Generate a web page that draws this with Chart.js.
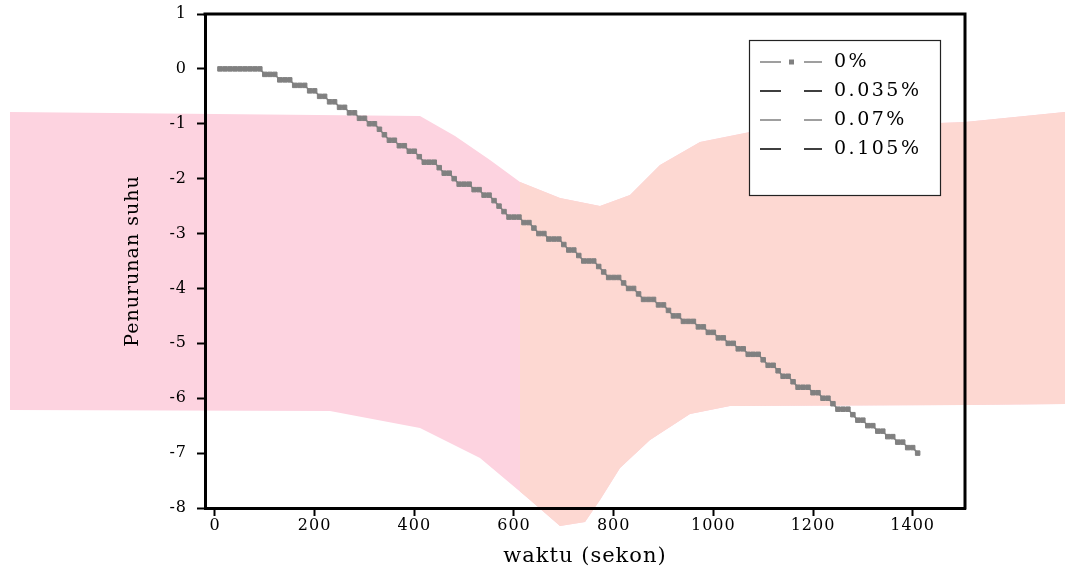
<!DOCTYPE html>
<html><head><meta charset="utf-8">
<script src="https://cdn.jsdelivr.net/npm/chart.js@4.4.1/dist/chart.umd.min.js"></script>
<style>html,body{margin:0;padding:0;background:#fff;}#wrap{width:1065px;height:570px;position:relative;}</style>
</head><body><div id="wrap"><canvas id="c" width="1065" height="570"></canvas></div>
<script>
// ---------- data ----------
const seriesLabels = ['0%', '0.035%', '0.07%', '0.105%'];
const waktu = [
  10,20,30,40,50,60,70,80,90,100,
  110,120,130,140,150,160,170,180,190,200,
  210,220,230,240,250,260,270,280,290,300,
  310,320,330,340,350,360,370,380,390,400,
  410,420,430,440,450,460,470,480,490,500,
  510,520,530,540,550,560,570,580,590,600,
  610,620,630,640,650,660,670,680,690,700,
  710,720,730,740,750,760,770,780,790,800,
  810,820,830,840,850,860,870,880,890,900,
  910,920,930,940,950,960,970,980,990,1000,
  1010,1020,1030,1040,1050,1060,1070,1080,1090,1100,
  1110,1120,1130,1140,1150,1160,1170,1180,1190,1200,
  1210,1220,1230,1240,1250,1260,1270,1280,1290,1300,
  1310,1320,1330,1340,1350,1360,1370,1380,1390,1400,
  1410
];
const suhu0 = [
  0,0,0,0,0,0,0,0,0,-0.1,
  -0.1,-0.1,-0.2,-0.2,-0.2,-0.3,-0.3,-0.3,-0.4,-0.4,
  -0.5,-0.5,-0.6,-0.6,-0.7,-0.7,-0.8,-0.8,-0.9,-0.9,
  -1.0,-1.0,-1.1,-1.2,-1.3,-1.3,-1.4,-1.4,-1.5,-1.5,
  -1.6,-1.7,-1.7,-1.7,-1.8,-1.9,-1.9,-2.0,-2.1,-2.1,
  -2.1,-2.2,-2.2,-2.3,-2.3,-2.4,-2.5,-2.6,-2.7,-2.7,
  -2.7,-2.8,-2.8,-2.9,-3.0,-3.0,-3.1,-3.1,-3.1,-3.2,
  -3.3,-3.3,-3.4,-3.5,-3.5,-3.5,-3.6,-3.7,-3.8,-3.8,
  -3.8,-3.9,-4.0,-4.0,-4.1,-4.2,-4.2,-4.2,-4.3,-4.3,
  -4.4,-4.5,-4.5,-4.6,-4.6,-4.6,-4.7,-4.7,-4.8,-4.8,
  -4.9,-4.9,-5.0,-5.0,-5.1,-5.1,-5.2,-5.2,-5.2,-5.3,
  -5.4,-5.4,-5.5,-5.6,-5.6,-5.7,-5.8,-5.8,-5.8,-5.9,
  -5.9,-6.0,-6.0,-6.1,-6.2,-6.2,-6.2,-6.3,-6.4,-6.4,
  -6.5,-6.5,-6.6,-6.6,-6.7,-6.7,-6.8,-6.8,-6.9,-6.9,
  -7.0
];
const suhu035 = [];
const suhu07 = [];
const suhu105 = [];
const xTicks = [0, 200, 400, 600, 800, 1000, 1200, 1400];
const yTicks = [1, 0, -1, -2, -3, -4, -5, -6, -7, -8];

// ---------- styles ----------
const FONT = 'DejaVu Serif';
const lineColors = ['#808080', '#000000', '#808080', '#000000'];
const showMarker = [true, false, false, false];

const toPts = (xs, ys) => ys.map((v, i) => ({x: xs[i], y: v}));
const seriesData = [suhu0, suhu035, suhu07, suhu105];

const datasets = seriesData.map((ys, i) => ({
  label: seriesLabels[i],
  data: toPts(waktu, ys),
  borderColor: lineColors[i],
  backgroundColor: lineColors[i],
  borderWidth: 1.5,
  pointStyle: 'rect',
  pointRadius: showMarker[i] ? 3.2 : 0,
  pointBorderWidth: 1,
  pointBackgroundColor: lineColors[i],
  pointBorderColor: lineColors[i],
  tension: 0,
  fill: false
}));

// background watermark-like tint
const tintPlugin = {
  id: 'tint',
  beforeDraw(chart) {
    const ctx = chart.ctx;
    ctx.letterSpacing = '1px';
    const top = [[10,112],[420,116],[455,136],[490,160],[520,182],[560,198],[600,206],[630,195],[660,165],[700,142],[760,130],[965,122],[1065,112]];
    const bot = [[1065,404],[965,405],[730,406],[690,414],[650,440],[620,468],[600,500],[585,522],[560,526],[530,500],[480,458],[420,428],[330,411],[10,410]];
    const path = () => {
      ctx.beginPath();
      top.forEach((p, i) => i ? ctx.lineTo(p[0], p[1]) : ctx.moveTo(p[0], p[1]));
      bot.forEach(p => ctx.lineTo(p[0], p[1]));
      ctx.closePath();
    };
    ctx.save();
    path();
    ctx.fillStyle = '#fdd3e0';
    ctx.fill();
    ctx.beginPath();
    ctx.rect(520, 0, 600, 570);
    ctx.clip();
    path();
    ctx.fillStyle = '#fdd8d2';
    ctx.fill();
    ctx.restore();
  }
};

const framePlugin = {
  id: 'frame',
  afterDraw(chart) {
    const {ctx, chartArea: a} = chart;
    ctx.save();
    ctx.strokeStyle = '#000';
    ctx.lineWidth = 3;
    ctx.beginPath();
    ctx.moveTo(a.left - 1.5, a.top);
    ctx.lineTo(a.right, a.top);
    ctx.lineTo(a.right, a.bottom + 1.5);
    ctx.stroke();
    ctx.restore();
  }
};

const legendPlugin = {
  id: 'boxLegend',
  afterDraw(chart) {
    const {ctx, chartArea: a} = chart;
    const bx = a.right - 216, by = a.top + 26, bw = 191, bh = 155;
    ctx.save();
    ctx.fillStyle = '#fff';
    ctx.fillRect(bx, by, bw, bh);
    ctx.strokeStyle = '#222';
    ctx.lineWidth = 1.2;
    ctx.strokeRect(bx + 0.5, by + 0.5, bw, bh);
    ctx.font = '19px "' + FONT + '"';
    ctx.letterSpacing = '2.5px';
    ctx.textBaseline = 'middle';
    ctx.textAlign = 'left';
    chart.data.datasets.forEach((ds, i) => {
      const y = by + 22 + i * 29;
      ctx.strokeStyle = ds.borderColor;
      ctx.lineWidth = 1.5;
      ctx.beginPath();
      ctx.moveTo(bx + 11, y); ctx.lineTo(bx + 32, y);
      ctx.moveTo(bx + 55, y); ctx.lineTo(bx + 73, y);
      ctx.stroke();
      if (ds.pointRadius > 0) {
        ctx.fillStyle = ds.pointBackgroundColor;
        ctx.fillRect(bx + 40, y - 2.5, 5, 5);
      }
      ctx.fillStyle = '#000';
      ctx.fillText(ds.label, bx + 85, y);
    });
    ctx.restore();
  }
};

const plainTick = v => String(v);

new Chart(document.getElementById('c'), {
  type: 'line',
  data: {datasets},
  plugins: [tintPlugin, framePlugin, legendPlugin],
  options: {
    responsive: false,
    devicePixelRatio: 1,
    animation: false,
    layout: {padding: {top: 14, right: 100, left: 0, bottom: 0}},
    plugins: {legend: {display: false}, tooltip: {enabled: false}},
    scales: {
      x: {
        type: 'linear', position: 'bottom', min: -20, max: 1505,
        afterBuildTicks: s => { s.ticks = xTicks.map(v => ({value: v})); },
        afterFit: s => { s.height = 62; s.paddingLeft = 0; s.paddingRight = 0; },
        grid: {drawOnChartArea: false, drawTicks: true, tickLength: 8, tickColor: '#000', tickWidth: 2},
        border: {display: true, color: '#000', width: 3},
        ticks: {color: '#000', font: {family: FONT, size: 16}, padding: 0, maxRotation: 0, autoSkip: false, callback: plainTick},
        title: {display: true, text: 'waktu (sekon)', color: '#000', font: {family: FONT, size: 21}, padding: {top: 0, bottom: 1}}
      },
      y: {
        type: 'linear', position: 'left', min: -8, max: 1,
        afterBuildTicks: s => { s.ticks = yTicks.map(v => ({value: v})); },
        afterFit: s => { s.width = 205; s.paddingTop = 0; s.paddingBottom = 0; },
        grid: {drawOnChartArea: false, drawTicks: true, tickLength: 8, tickColor: '#000', tickWidth: 2},
        border: {display: true, color: '#000', width: 3},
        ticks: {color: '#000', font: {family: FONT, size: 16}, padding: 10, autoSkip: false, callback: plainTick},
        title: {display: true, text: 'Penurunan suhu', color: '#000', font: {family: FONT, size: 19}, padding: {top: 122, bottom: 0}}
      }
    }
  }
});
</script>
</body></html>
